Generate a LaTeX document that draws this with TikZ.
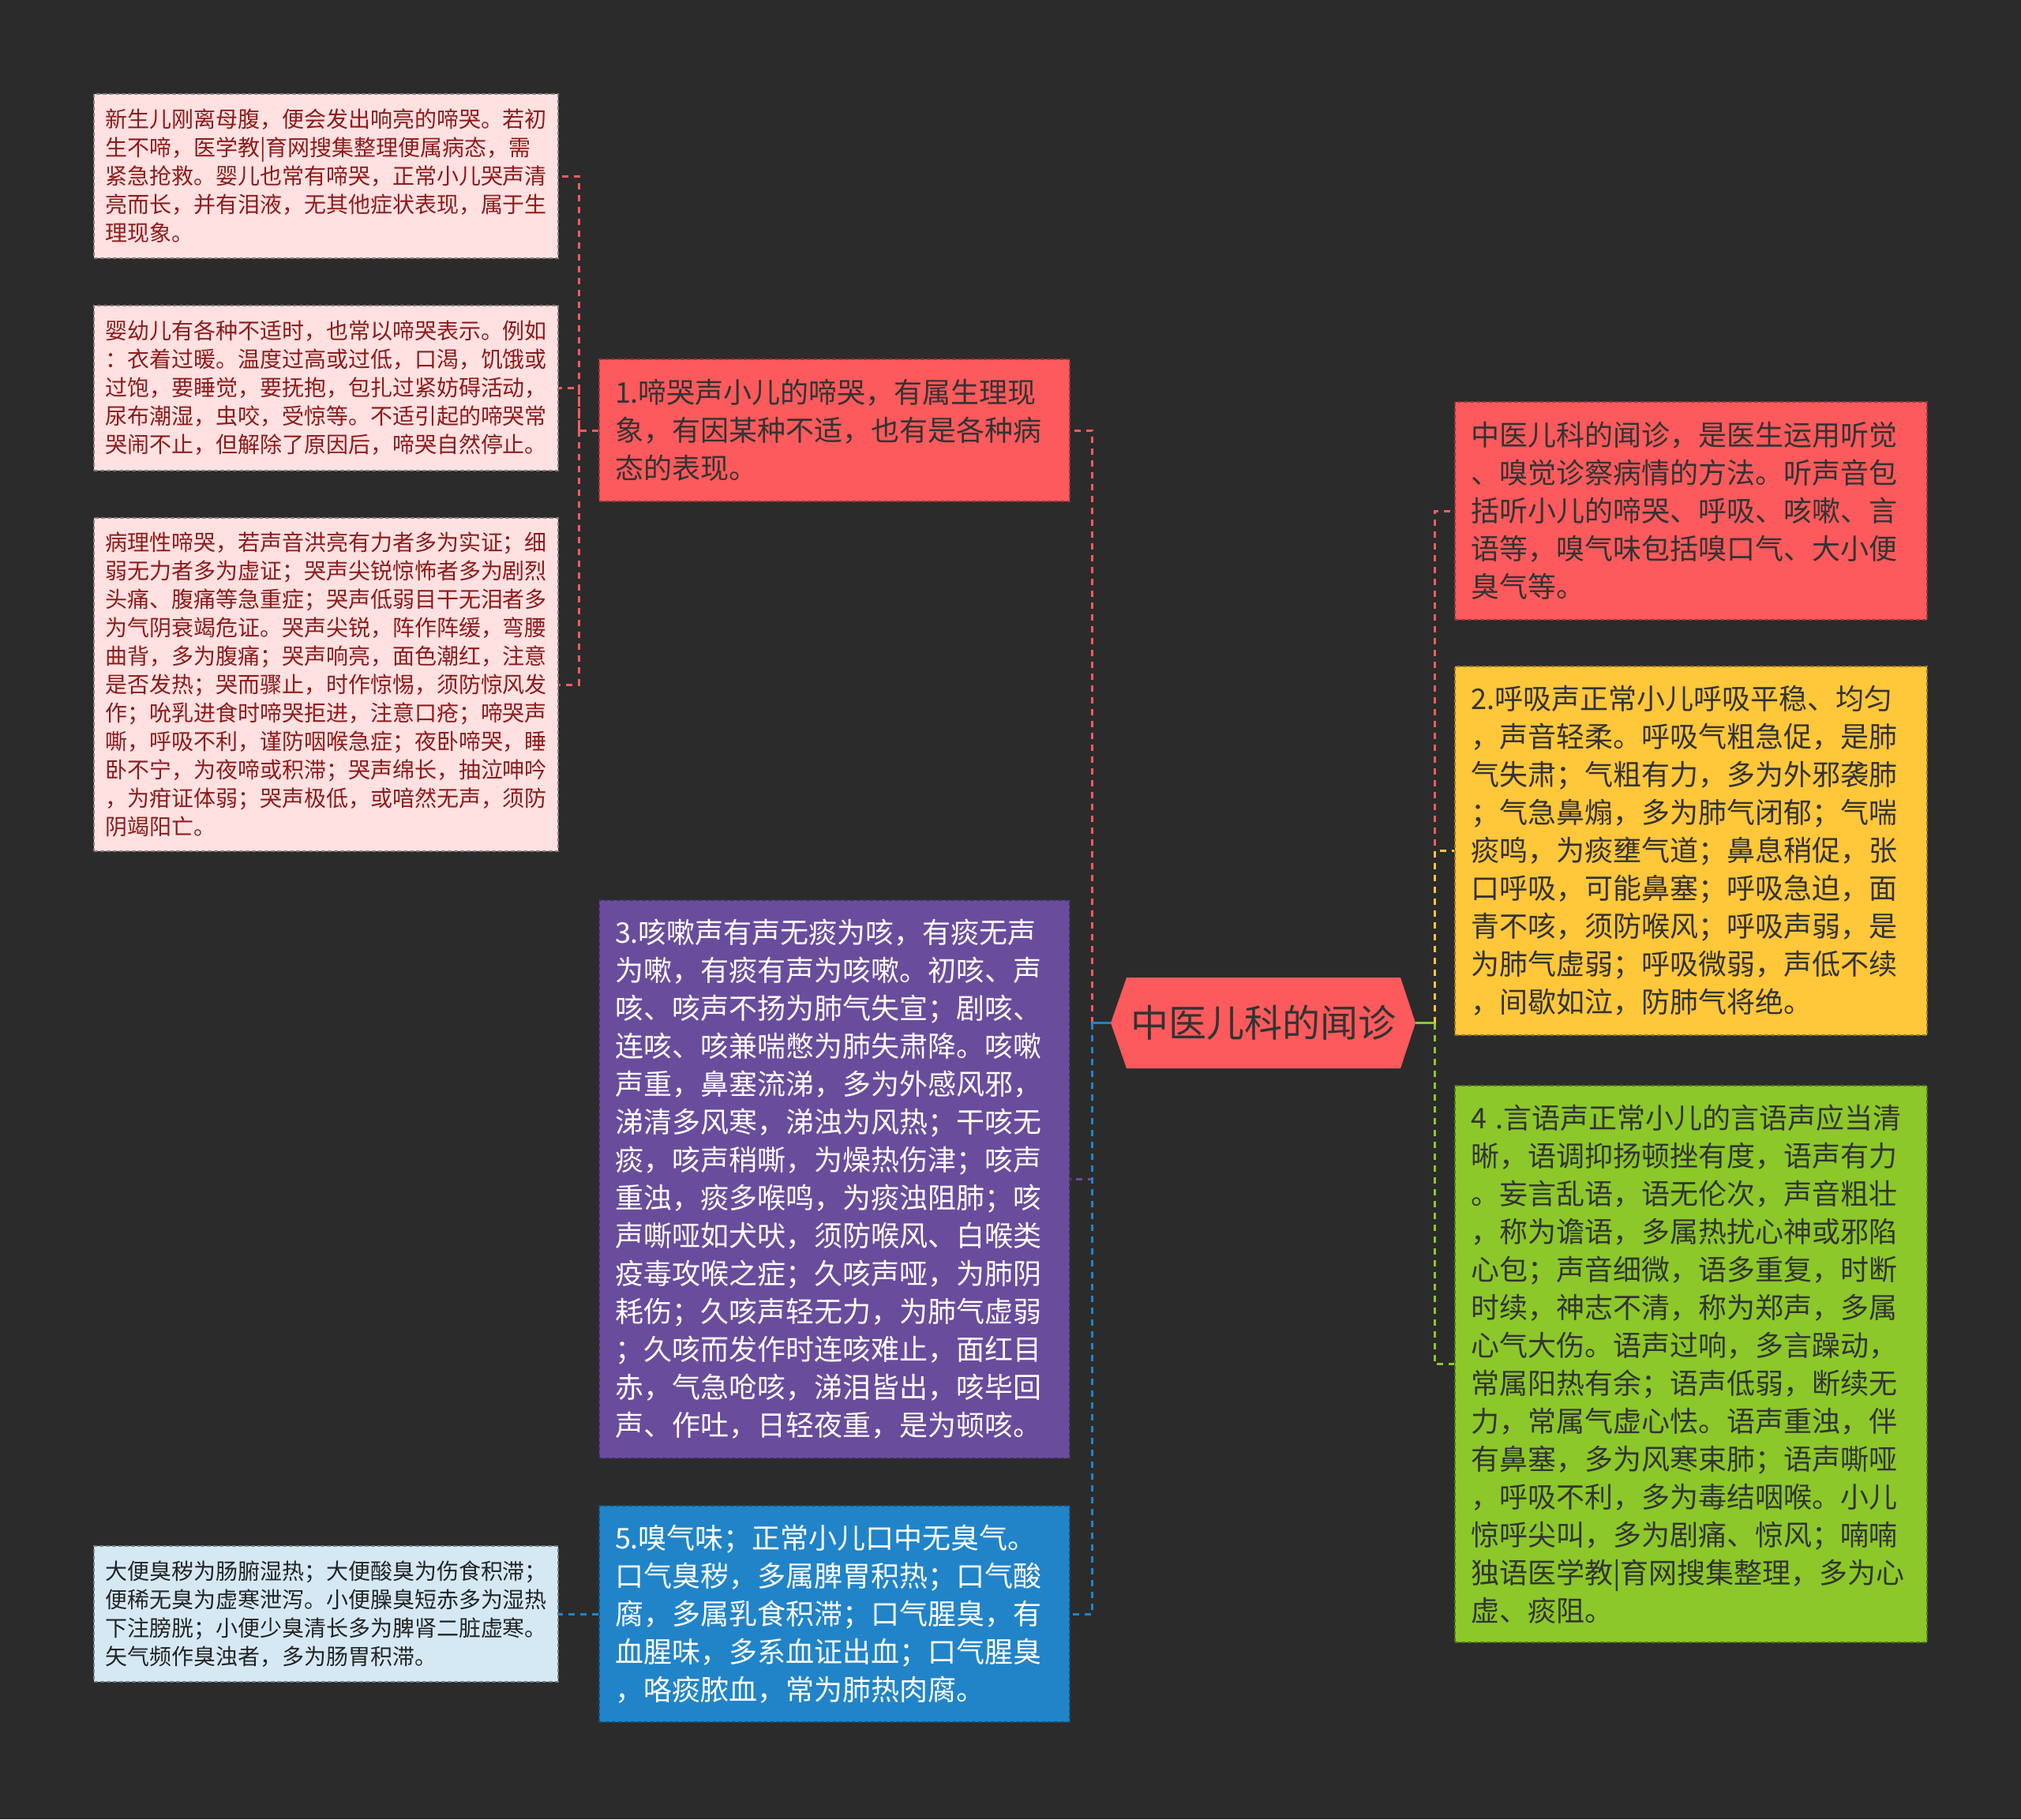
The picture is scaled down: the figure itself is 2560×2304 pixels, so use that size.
\documentclass[tikz,border=0pt]{standalone}
\usepackage{fontspec}
\setmainfont{Noto Sans CJK SC}
\usetikzlibrary{calc}
\definecolor{bgc}{HTML}{2B2B2B}
\definecolor{cred}{HTML}{FC5A5C}
\definecolor{cpink}{HTML}{FFE1E1}
\definecolor{cpinktext}{HTML}{8E1B1B}
\definecolor{cpurple}{HTML}{6A4C9C}
\definecolor{cblue}{HTML}{2184C8}
\definecolor{clblue}{HTML}{D5E9F5}
\definecolor{cyellow}{HTML}{FFC73A}
\definecolor{cgreen}{HTML}{8CC829}
\definecolor{cdark}{HTML}{333333}
\tikzset{
  box/.style={rectangle, align=left, anchor=center, line width=0.8pt, dash pattern=on 2.5pt off 1.5pt},
  lbox/.style={box, draw=#1!55!black, fill=#1, font=\fontsize{14pt}{18pt}\selectfont, text width=280pt, inner xsep=7pt, minimum width=294pt},
  mbox/.style={box, draw=#1!60!black, fill=#1, font=\fontsize{18pt}{24pt}\selectfont, text width=278pt, inner xsep=10pt, minimum width=298pt},
  rbox/.style={box, draw=#1!60!black, fill=#1, font=\fontsize{18pt}{24pt}\selectfont, text width=279pt, inner xsep=10pt, minimum width=299pt},
  dashc/.style={line width=1.5pt, dash pattern=on 4pt off 3.5pt},
  solidc/.style={line width=1.5pt},
}
\begin{document}
\begin{tikzpicture}[x=0.5pt,y=-0.5pt]
\fill[bgc] (0,0) rectangle (2560,2304);
\useasboundingbox (0,0) rectangle (2560,2304);

% hub
\fill[cred] (1407,1295.5) -- (1427,1238) -- (1774,1238) -- (1793,1295.5) -- (1774,1353) -- (1427,1353) -- cycle;
\node[inner sep=0pt, minimum width=193pt, minimum height=57.5pt, text=cdark, font=\fontsize{24pt}{28pt}\selectfont] (hub) at (1600,1295.5) {中医儿科的闻诊};

% middle column
\node[mbox=cred, text=cdark, minimum height=90pt] (m1) at (1057,545) {1.啼哭声小儿的啼哭，有属生理现\\
象，有因某种不适，也有是各种病\\
态的表现。};

\node[mbox=cpurple, text=white, minimum height=353.5pt] (m3) at (1057,1493.5) {3.咳嗽声有声无痰为咳，有痰无声\\
为嗽，有痰有声为咳嗽。初咳、声\\
咳、咳声不扬为肺气失宣；剧咳、\\
连咳、咳兼喘憋为肺失肃降。咳嗽\\
声重，鼻塞流涕，多为外感风邪，\\
涕清多风寒，涕浊为风热；干咳无\\
痰，咳声稍嘶，为燥热伤津；咳声\\
重浊，痰多喉鸣，为痰浊阻肺；咳\\
声嘶哑如犬吠，须防喉风、白喉类\\
疫毒攻喉之症；久咳声哑，为肺阴\\
耗伤；久咳声轻无力，为肺气虚弱\\
；久咳而发作时连咳难止，面红目\\
赤，气急呛咳，涕泪皆出，咳毕回\\
声、作吐，日轻夜重，是为顿咳。};

\node[mbox=cblue, text=white, minimum height=137pt] (m5) at (1057,2044) {5.嗅气味；正常小儿口中无臭气。\\
口气臭秽，多属脾胃积热；口气酸\\
腐，多属乳食积滞；口气腥臭，有\\
血腥味，多系血证出血；口气腥臭\\
，咯痰脓血，常为肺热肉腐。};

% left column
\node[lbox=cpink, text=cpinktext, minimum height=104pt] (l1) at (413,223) {新生儿刚离母腹，便会发出响亮的啼哭。若初\\
生不啼，医学教|育网搜集整理便属病态，需\\
紧急抢救。婴儿也常有啼哭，正常小儿哭声清\\
亮而长，并有泪液，无其他症状表现，属于生\\
理现象。};

\node[lbox=cpink, text=cpinktext, minimum height=104.5pt] (l2) at (413,491.5) {婴幼儿有各种不适时，也常以啼哭表示。例如\\
：衣着过暖。温度过高或过低，口渴，饥饿或\\
过饱，要睡觉，要抚抱，包扎过紧妨碍活动，\\
尿布潮湿，虫咬，受惊等。不适引起的啼哭常\\
哭闹不止，但解除了原因后，啼哭自然停止。};

\node[lbox=cpink, text=cpinktext, minimum height=211pt] (l3) at (413,867) {病理性啼哭，若声音洪亮有力者多为实证；细\\
弱无力者多为虚证；哭声尖锐惊怖者多为剧烈\\
头痛、腹痛等急重症；哭声低弱目干无泪者多\\
为气阴衰竭危证。哭声尖锐，阵作阵缓，弯腰\\
曲背，多为腹痛；哭声响亮，面色潮红，注意\\
是否发热；哭而骤止，时作惊惕，须防惊风发\\
作；吮乳进食时啼哭拒进，注意口疮；啼哭声\\
嘶，呼吸不利，谨防咽喉急症；夜卧啼哭，睡\\
卧不宁，为夜啼或积滞；哭声绵长，抽泣呻吟\\
，为疳证体弱；哭声极低，或喑然无声，须防\\
阴竭阳亡。};

\node[lbox=clblue, text=cdark!70!black, minimum height=86pt] (l4) at (413,2044) {大便臭秽为肠腑湿热；大便酸臭为伤食积滞；\\
便稀无臭为虚寒泄泻。小便臊臭短赤多为湿热\\
下注膀胱；小便少臭清长多为脾肾二脏虚寒。\\
矢气频作臭浊者，多为肠胃积滞。};

% right column
\node[rbox=cred, text=cdark, minimum height=138pt] (r0) at (2142,647) {中医儿科的闻诊，是医生运用听觉\\
、嗅觉诊察病情的方法。听声音包\\
括听小儿的啼哭、呼吸、咳嗽、言\\
语等，嗅气味包括嗅口气、大小便\\
臭气等。};

\node[rbox=cyellow, text=cdark, minimum height=233.5pt] (r2) at (2142,1077.5) {2.呼吸声正常小儿呼吸平稳、均匀\\
，声音轻柔。呼吸气粗急促，是肺\\
气失肃；气粗有力，多为外邪袭肺\\
；气急鼻煽，多为肺气闭郁；气喘\\
痰鸣，为痰壅气道；鼻息稍促，张\\
口呼吸，可能鼻塞；呼吸急迫，面\\
青不咳，须防喉风；呼吸声弱，是\\
为肺气虚弱；呼吸微弱，声低不续\\
，间歇如泣，防肺气将绝。};

\node[rbox=cgreen, text=cdark, minimum height=352.5pt] (r4) at (2142,1727.5) {4 .言语声正常小儿的言语声应当清\\
晰，语调抑扬顿挫有度，语声有力\\
。妄言乱语，语无伦次，声音粗壮\\
，称为谵语，多属热扰心神或邪陷\\
心包；声音细微，语多重复，时断\\
时续，神志不清，称为郑声，多属\\
心气大伤。语声过响，多言躁动，\\
常属阳热有余；语声低弱，断续无\\
力，常属气虚心怯。语声重浊，伴\\
有鼻塞，多为风寒束肺；语声嘶哑\\
，呼吸不利，多为毒结咽喉。小儿\\
惊呼尖叫，多为剧痛、惊风；喃喃\\
独语医学教|育网搜集整理，多为心\\
虚、痰阻。};

% connectors: hub to middle column
\coordinate (lsp) at (1383,1295.5);
\draw[dashc, cred] (lsp) |- (m1.east);
\draw[dashc, cpurple] (lsp) |- (m3.east);
\draw[dashc, cblue] (lsp) |- (m5.east);
\draw[solidc, cblue] (hub.west) -- (lsp);

% hub to right column
\coordinate (rsp) at (1817,1295.5);
\draw[dashc, cred] (rsp) |- (r0.west);
\draw[dashc, cyellow] (rsp) |- (r2.west);
\draw[dashc, cgreen] (rsp) |- (r4.west);
\draw[solidc, cgreen] (hub.east) -- (rsp);

% m1 to left column
\coordinate (msp) at (733,545);
\draw[dashc, cred] (m1.west) -- (msp) |- (l1.east);
\draw[dashc, cred] (msp) |- (l2.east);
\draw[dashc, cred] (msp) |- (l3.east);

% m5 to l4
\draw[dashc, cblue] (m5.west) -- (l4.east);
\end{tikzpicture}
\end{document}
